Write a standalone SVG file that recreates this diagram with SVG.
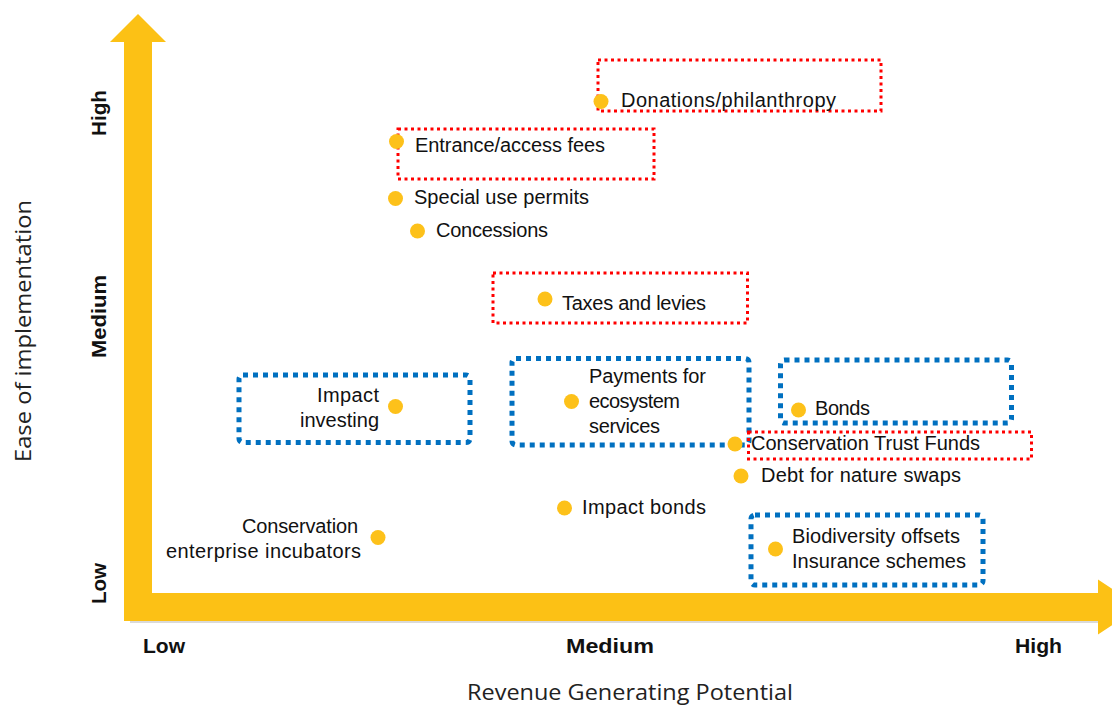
<svg xmlns="http://www.w3.org/2000/svg" width="1112" height="705" viewBox="0 0 1112 705">
  <style>
    .item { font-family: "Liberation Sans Narrow", "Liberation Sans", Arial, sans-serif; font-size: 20px; fill: #111; }
    .tick { font-family: "Liberation Sans", Arial, sans-serif; font-size: 20px; font-weight: bold; fill: #111; }
    .title { font-family: "Open Sans", "Liberation Sans", sans-serif; font-size: 21px; fill: #222; }
    .dot { fill: #FDC11A; }
    .red { fill: none; stroke: #FF0000; stroke-width: 3; stroke-dasharray: 3 3.5; }
    .blue { fill: none; stroke: #0070C0; stroke-width: 5; stroke-dasharray: 5 5; }
  </style>

  <rect width="1112" height="705" fill="#ffffff"/>

  <!-- Axes: one L-shaped double arrow -->
  <g id="axes">
    <line x1="130" y1="622" x2="1098" y2="622" stroke="#b5b5b5" stroke-width="1"/>
    <path d="M124,621 V42 H110 L138,14 L166,42 H152 V593 H1098 V579.5 L1140,607 L1098,634.5 V621 Z" fill="#FCC115"/>
  </g>

  <!-- Axis tick labels -->
  <g id="x-ticks">
    <text class="tick" x="143" y="653" textLength="42" lengthAdjust="spacingAndGlyphs">Low</text>
    <text class="tick" x="566" y="653" textLength="88" lengthAdjust="spacingAndGlyphs">Medium</text>
    <text class="tick" x="1015" y="653" textLength="47" lengthAdjust="spacingAndGlyphs">High</text>
  </g>
  <g id="y-ticks">
    <text class="tick" transform="translate(106,136) rotate(-90)" textLength="46" lengthAdjust="spacingAndGlyphs">High</text>
    <text class="tick" transform="translate(106,358) rotate(-90)" textLength="83" lengthAdjust="spacingAndGlyphs">Medium</text>
    <text class="tick" transform="translate(106,604) rotate(-90)" textLength="41" lengthAdjust="spacingAndGlyphs">Low</text>
  </g>

  <!-- Axis titles -->
  <text id="y-title" class="title" transform="translate(31,462) rotate(-90)" textLength="262" lengthAdjust="spacingAndGlyphs">Ease of implementation</text>
  <text id="x-title" class="title" x="467" y="700" textLength="326" lengthAdjust="spacingAndGlyphs">Revenue Generating Potential</text>

  <!-- Financing mechanisms -->
  <g id="donations">
    <rect class="red" x="598" y="60" width="283" height="51"/>
    <circle class="dot" cx="601" cy="101.5" r="7.5"/>
    <text class="item" x="621" y="107" textLength="215" lengthAdjust="spacing">Donations/philanthropy</text>
  </g>

  <g id="entrance-fees">
    <rect class="red" x="398" y="129" width="256" height="50"/>
    <circle class="dot" cx="396.5" cy="141.5" r="7.5"/>
    <text class="item" x="415" y="152" textLength="190" lengthAdjust="spacing">Entrance/access fees</text>
  </g>

  <g id="special-use-permits">
    <circle class="dot" cx="395.5" cy="198.5" r="7.5"/>
    <text class="item" x="414" y="204" textLength="175" lengthAdjust="spacing">Special use permits</text>
  </g>

  <g id="concessions">
    <circle class="dot" cx="417.5" cy="231" r="7.5"/>
    <text class="item" x="436" y="237" textLength="112" lengthAdjust="spacing">Concessions</text>
  </g>

  <g id="taxes-levies">
    <rect class="red" x="493" y="273" width="254.5" height="50"/>
    <circle class="dot" cx="545" cy="299" r="7.5"/>
    <text class="item" x="562" y="310" textLength="144" lengthAdjust="spacing">Taxes and levies</text>
  </g>

  <g id="payments-ecosystem-services">
    <rect class="blue" x="512" y="358.5" width="237" height="86.5" rx="4"/>
    <circle class="dot" cx="571.5" cy="401.5" r="7.5"/>
    <text class="item" x="589" y="383" textLength="117" lengthAdjust="spacing">Payments for</text>
    <text class="item" x="589" y="408" textLength="91" lengthAdjust="spacing">ecosystem</text>
    <text class="item" x="589" y="433" textLength="71" lengthAdjust="spacing">services</text>
  </g>

  <g id="impact-investing">
    <rect class="blue" x="239" y="375" width="231" height="67.5" rx="4"/>
    <circle class="dot" cx="395.5" cy="406.5" r="7.5"/>
    <text class="item" x="317" y="402" textLength="62" lengthAdjust="spacing">Impact</text>
    <text class="item" x="300" y="427" textLength="79" lengthAdjust="spacing">investing</text>
  </g>

  <g id="bonds">
    <rect class="blue" x="780.5" y="360" width="231" height="63" rx="4"/>
    <circle class="dot" cx="798.5" cy="410" r="7.5"/>
    <text class="item" x="815" y="415" textLength="55" lengthAdjust="spacing">Bonds</text>
  </g>

  <g id="conservation-trust-funds">
    <rect class="red" x="748.5" y="432" width="283" height="27"/>
    <circle class="dot" cx="735" cy="444" r="7.5"/>
    <text class="item" x="751" y="450" textLength="229" lengthAdjust="spacing">Conservation Trust Funds</text>
  </g>

  <g id="debt-for-nature-swaps">
    <circle class="dot" cx="741" cy="476" r="7.5"/>
    <text class="item" x="761" y="482" textLength="200" lengthAdjust="spacing">Debt for nature swaps</text>
  </g>

  <g id="impact-bonds">
    <circle class="dot" cx="564.5" cy="508" r="7.5"/>
    <text class="item" x="582" y="514" textLength="124" lengthAdjust="spacing">Impact bonds</text>
  </g>

  <g id="enterprise-incubators">
    <circle class="dot" cx="378" cy="537.5" r="7.5"/>
    <text class="item" x="242" y="533" textLength="116" lengthAdjust="spacing">Conservation</text>
    <text class="item" x="166" y="557.5" textLength="195" lengthAdjust="spacing">enterprise incubators</text>
  </g>

  <g id="offsets-insurance">
    <rect class="blue" x="751" y="515" width="232" height="70" rx="4"/>
    <circle class="dot" cx="775.5" cy="549" r="7.5"/>
    <text class="item" x="792" y="543" textLength="168" lengthAdjust="spacing">Biodiversity offsets</text>
    <text class="item" x="792" y="568" textLength="174" lengthAdjust="spacing">Insurance schemes</text>
  </g>
</svg>
